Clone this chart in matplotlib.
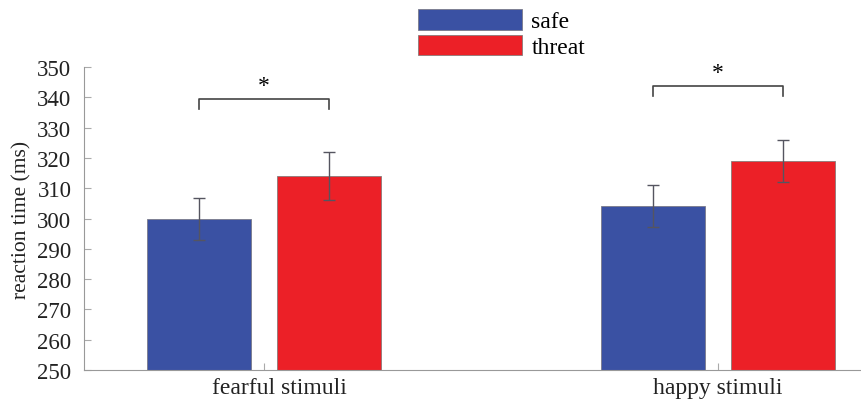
import matplotlib
matplotlib.use("Agg")
import matplotlib.pyplot as plt
import matplotlib.transforms as mtransforms
import numpy as np

plt.rcParams['font.family'] = ['Liberation Serif', 'DejaVu Serif']

categories = ['fearful stimuli', 'happy stimuli']
safe = [299.8, 304.1]
threat = [314.0, 319.0]
safe_err = [7.0, 7.0]
threat_err = [8.0, 7.0]
# significance brackets: (bracket level, tick bottom)
brackets = [(339.4, 336.0), (343.7, 340.4)]

blue = '#3a51a3'
red = '#ec2027'

fig = plt.figure(figsize=(8.62, 4.06), dpi=100)
ax = fig.add_axes([84/862, 35/406, 776/862, 303/406])

x = np.arange(1, len(categories) + 1)
off = 0.143
w = 0.229
ax.bar(x - off, [s - 250 for s in safe], w, bottom=250, color=blue,
       edgecolor='#7a7a8a', linewidth=0.6, label='safe')
ax.bar(x + off, [t - 250 for t in threat], w, bottom=250, color=red,
       edgecolor='#8a7a7a', linewidth=0.6, label='threat')
ax.errorbar(x - off, safe, yerr=safe_err, fmt='none', ecolor='#555560',
            elinewidth=1, capsize=4, capthick=1)
ax.errorbar(x + off, threat, yerr=threat_err, fmt='none', ecolor='#555560',
            elinewidth=1, capsize=4, capthick=1)

for xi, (top, low) in zip(x, brackets):
    ax.plot([xi - off, xi - off, xi + off, xi + off], [low, top, top, low],
            color='#444444', linewidth=1.2)
    ax.text(xi, top + 1.0, '*', ha='center', va='bottom', fontsize=17)

ax.set_xlim(0.604, 2.313)
ax.set_ylim(250, 350)
ax.set_yticks(range(250, 351, 10))
ax.set_xticks(x)
ax.set_xticklabels(categories)
ax.tick_params(axis='both', direction='in', length=5, color='#aaaaaa',
               labelcolor='#222222')
ax.tick_params(axis='y', labelsize=16.5, pad=9)
ax.tick_params(axis='x', labelsize=17, pad=5)
# the first category label sits a little right of its tick in the original
lbl = ax.get_xticklabels()[0]
lbl.set_transform(lbl.get_transform() +
                  mtransforms.ScaledTranslation(0.16, 0, fig.dpi_scale_trans))
ax.set_ylabel('reaction time (ms)', fontsize=15.5, color='#222222', labelpad=4)
for s in ['top', 'right']:
    ax.spines[s].set_visible(False)
for s in ['left', 'bottom']:
    ax.spines[s].set_color('#999999')

fig.legend(loc='upper left', bbox_to_anchor=(418/862, 0.975), frameon=False,
           fontsize=17, handlelength=4.4, handleheight=0.95,
           handletextpad=0.4, labelspacing=0.1, borderpad=0, borderaxespad=0)

fig.savefig('out.png', dpi=100)
